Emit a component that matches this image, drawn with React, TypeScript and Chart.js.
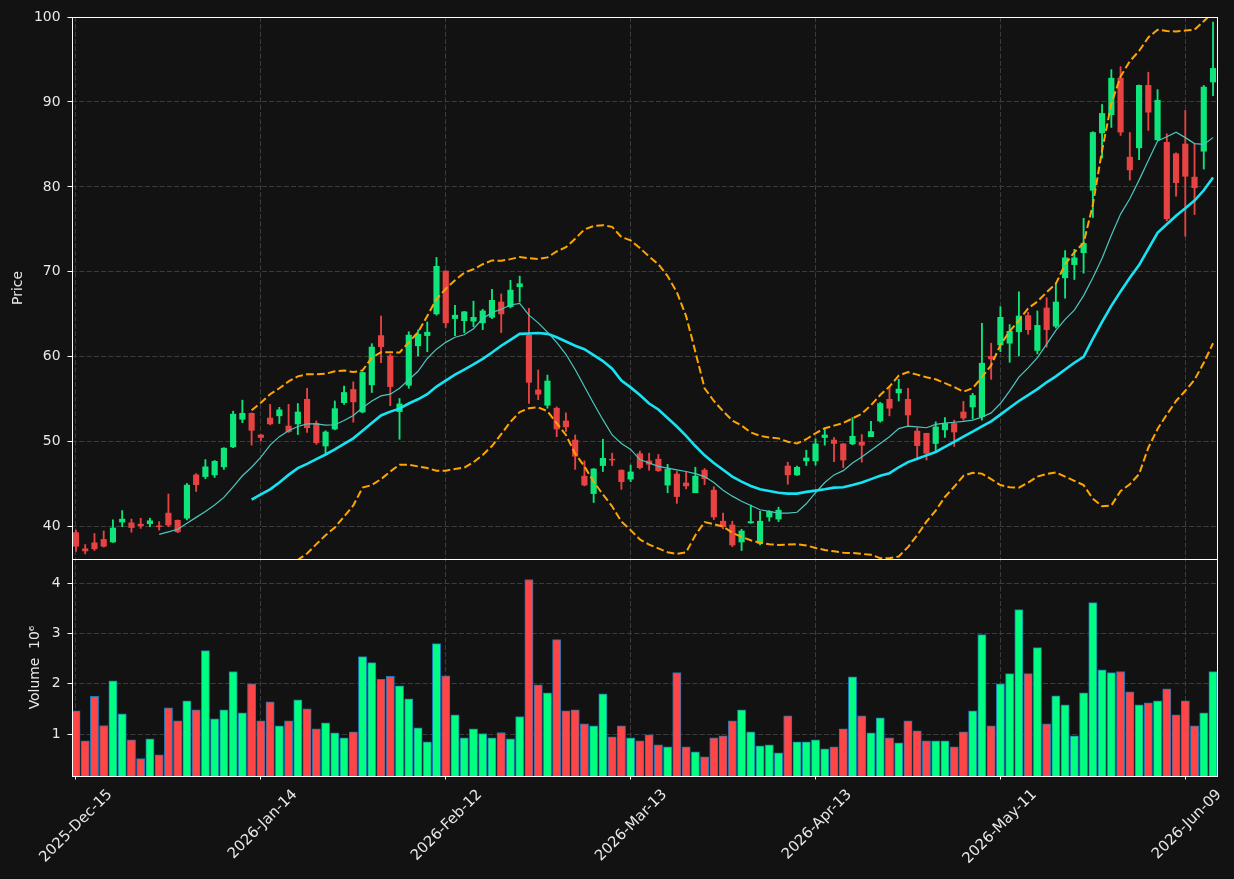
import React, { useEffect, useRef } from 'react';
import { Chart, registerables } from 'chart.js';
Chart.register(...registerables);

// x tick labels (trading-day index -> date label)
const tickIndices = [0, 20, 40, 60, 80, 100, 120];
const tickLabels = ['2025-Dec-15', '2026-Jan-14', '2026-Feb-12', '2026-Mar-13', '2026-Apr-13', '2026-May-11', '2026-Jun-09'];

const openP = [39.3,37.4,38.1,38.5,38.2,40.55,40.45,40.3,40.35,40.1,
41.6,40.75,41.0,46.1,45.9,46.1,47.05,49.4,52.65,53.35,
50.8,52.8,53.05,51.85,52.1,55.0,52.15,49.5,51.5,54.6,
56.15,53.5,56.7,62.5,60.1,53.55,56.65,61.3,62.5,65.05,
70.1,64.5,64.25,64.2,64.0,64.65,66.45,65.9,68.25,62.55,
56.1,54.3,53.95,52.45,50.2,45.95,43.9,47.2,47.95,46.65,
45.6,48.6,47.75,47.95,44.9,46.2,45.15,44.0,46.65,44.3,
40.65,40.2,38.2,40.45,38.05,41.15,40.9,47.15,46.1,47.75,
47.75,50.5,50.2,49.75,49.75,49.95,50.6,52.45,55.0,55.75,
55.0,51.25,51.0,49.8,51.4,52.15,53.5,54.1,52.95,60.05,
61.4,61.6,62.95,64.85,60.75,65.75,63.6,69.3,70.85,72.25,
79.6,86.35,88.5,92.8,83.5,84.6,91.95,85.55,85.25,83.9,
85.05,81.15,84.2,92.35];

const highP = [39.6,37.9,39.2,39.5,40.8,41.9,40.9,41.0,41.0,40.6,
43.85,40.8,45.1,46.25,47.9,47.8,49.3,53.6,54.9,53.4,
50.85,54.4,54.05,54.4,54.5,56.3,52.45,51.3,54.8,56.55,
57.05,58.2,61.55,64.8,60.3,55.1,62.95,63.15,64.1,71.7,
70.1,66.05,65.35,66.55,65.6,67.95,67.4,69.0,69.5,65.7,
58.45,57.85,54.1,53.4,50.8,47.75,46.85,50.3,48.65,46.7,
47.25,48.9,48.65,48.5,47.35,46.5,46.4,47.0,46.85,44.7,
41.6,40.65,39.7,42.55,41.8,41.9,42.3,47.6,47.15,49.0,
50.35,51.55,50.5,49.8,52.85,50.85,52.4,54.65,56.4,57.35,
56.3,51.65,51.0,52.35,52.85,52.55,54.75,55.7,63.95,61.6,
65.9,63.8,67.65,65.25,65.4,66.95,68.7,72.5,72.65,76.3,
86.5,89.7,93.8,94.15,86.4,92.0,93.5,91.45,86.25,84.0,
89.0,85.05,91.95,99.4];

const lowP = [37.1,36.8,37.2,37.6,38.15,40.0,39.35,39.8,40.0,39.6,
40.0,39.3,40.8,44.15,45.65,45.8,46.75,49.3,52.25,49.6,
50.1,52.0,52.15,51.1,50.85,51.1,49.7,48.5,51.4,54.4,
52.3,53.4,55.8,59.3,54.25,50.3,56.3,60.1,60.6,64.9,
63.45,62.5,62.85,63.55,63.2,64.5,62.85,65.75,66.45,54.5,
54.95,53.95,50.6,51.2,46.75,44.8,42.85,46.5,47.2,44.4,
45.3,46.8,46.65,46.5,44.0,42.75,44.45,44.0,44.95,40.85,
39.75,37.65,37.2,40.4,37.85,40.65,40.6,45.0,46.05,47.2,
47.25,49.6,47.65,46.95,49.65,47.6,50.6,52.3,53.05,54.8,
51.9,47.85,47.85,48.9,50.5,49.45,52.55,52.7,52.55,57.35,
60.6,59.35,60.1,62.65,60.35,61.15,63.4,66.9,69.1,69.85,
76.4,83.4,87.0,86.05,80.8,83.2,86.65,85.5,76.0,78.9,
74.2,76.75,82.1,90.75];

const closeP = [37.7,37.15,37.4,37.7,39.85,40.9,39.9,40.1,40.7,40.0,
40.2,39.4,44.9,44.95,47.05,47.7,49.25,53.25,53.35,51.35,
50.5,52.1,53.75,51.2,53.5,51.65,49.9,51.15,53.9,55.8,
54.7,58.15,61.15,61.2,56.5,54.45,62.55,62.65,62.9,70.65,
64.0,64.9,65.3,64.65,65.4,66.65,65.05,67.85,68.6,57.0,
55.6,57.15,51.5,51.75,48.3,44.9,46.8,48.05,47.85,45.3,
46.45,46.95,47.35,46.6,46.75,43.55,44.8,45.95,45.65,41.15,
40.0,37.85,39.5,40.6,40.65,41.8,41.95,46.1,47.0,48.1,
49.75,50.8,49.8,47.85,50.65,49.6,51.2,54.5,53.95,56.2,
53.15,49.55,48.65,51.75,52.15,51.15,52.8,55.45,59.25,59.75,
64.65,63.0,64.8,63.2,63.7,63.2,66.45,71.65,71.65,73.35,
86.4,88.65,92.8,86.45,82.0,91.95,88.8,90.2,76.25,80.5,
81.25,79.9,91.75,93.95];

// volume in millions
const volumeM = [1.465,0.868,1.75,1.173,2.062,1.405,0.888,0.516,0.908,0.589,
1.525,1.266,1.664,1.485,2.66,1.306,1.485,2.242,1.425,2.003,
1.266,1.644,1.167,1.266,1.684,1.505,1.107,1.226,1.027,0.928,
1.047,2.54,2.421,2.089,2.149,1.963,1.704,1.127,0.848,2.799,
2.162,1.386,0.93,1.107,1.014,0.928,1.034,0.908,1.352,4.073,
1.983,1.824,2.879,1.465,1.485,1.206,1.167,1.804,0.948,1.167,
0.928,0.868,0.987,0.788,0.749,2.222,0.749,0.649,0.549,0.928,
0.967,1.266,1.485,1.047,0.768,0.788,0.629,1.366,0.848,0.848,
0.888,0.709,0.749,1.107,2.142,1.366,1.027,1.326,0.928,0.828,
1.266,1.067,0.868,0.868,0.868,0.749,1.047,1.465,2.978,1.167,
2.003,2.202,3.476,2.202,2.719,1.206,1.764,1.585,0.967,1.824,
3.615,2.281,2.222,2.242,1.843,1.585,1.624,1.664,1.903,1.386,
1.664,1.167,1.425,2.242];

// 10-period moving average, first value at index 9
const sma10Start = 9;
const sma10 = [39.1,39.4,39.7,40.4,41.1,41.8,42.55,43.45,44.7,46.0,
47.0,48.2,49.6,50.6,51.3,51.8,52.1,52.1,51.95,52.0,
52.5,53.1,54.0,54.8,55.4,55.6,56.3,57.3,58.3,59.8,
60.9,61.7,62.3,62.6,63.3,64.5,65.2,65.6,66.1,66.3,
64.9,64.0,62.9,61.7,60.3,58.5,56.5,54.5,52.6,50.8,
49.8,49.1,47.9,47.5,47.1,46.9,46.7,46.5,46.25,45.9,
45.2,44.3,43.6,43.0,42.5,42.0,41.8,41.6,41.6,41.7,
42.7,44.0,45.2,46.1,46.6,47.5,48.2,49.0,49.8,50.6,
51.55,51.85,51.75,51.65,52.05,52.2,52.3,52.4,52.55,52.9,
53.4,54.5,56.0,57.6,58.7,59.9,61.5,63.1,64.4,65.5,
67.2,69.3,71.6,74.3,76.8,78.6,80.8,83.1,85.4,85.9,
86.45,85.8,85.1,85.0,85.8];

// 20-period moving average and Bollinger bands, first value at index 19
const sma20Start = 19;
const sma20 = [43.2,43.8,44.4,45.2,46.1,46.9,47.4,47.95,48.5,49.1,
49.75,50.4,51.3,52.2,53.1,53.55,53.9,54.5,55.0,55.6,
56.5,57.2,57.9,58.5,59.1,59.75,60.5,61.3,62.0,62.7,
62.75,62.8,62.7,62.3,61.8,61.3,60.9,60.2,59.5,58.6,
57.2,56.4,55.5,54.5,53.8,52.8,51.8,50.7,49.5,48.4,
47.5,46.7,45.9,45.3,44.8,44.4,44.2,44.0,43.9,43.9,
44.1,44.25,44.4,44.6,44.65,44.9,45.2,45.6,46.0,46.3,
47.0,47.6,48.0,48.4,48.8,49.4,50.0,50.6,51.2,51.8,
52.4,53.2,54.0,54.8,55.5,56.2,57.0,57.7,58.5,59.3,
60.0,62.1,64.1,66.0,67.7,69.3,70.8,72.7,74.6,75.6,
76.6,77.5,78.4,79.6,81.1];

const bbUpper = [53.7,54.6,55.6,56.3,57.1,57.7,57.95,57.95,58.0,58.3,
58.4,58.2,58.4,59.9,60.55,60.55,60.5,61.7,62.9,64.8,
66.8,68.0,69.0,69.9,70.3,70.9,71.35,71.3,71.5,71.75,
71.6,71.5,71.7,72.4,72.9,73.9,75.0,75.4,75.5,75.3,
74.1,73.7,72.8,71.8,70.9,69.5,67.6,64.8,60.6,56.3,
54.8,53.6,52.5,51.9,51.1,50.7,50.5,50.4,50.0,49.8,
50.3,51.0,51.6,51.9,52.2,52.75,53.3,54.3,55.5,56.5,
57.8,58.2,57.9,57.6,57.35,56.9,56.45,55.9,56.3,57.6,
59.0,61.4,63.0,64.3,65.7,66.5,67.6,68.6,70.9,72.3,
73.4,77.9,84.3,89.8,93.0,94.8,96.0,97.6,98.5,98.35,
98.3,98.4,98.5,99.5,100.6];

const bbLower = [32.7,33.0,33.2,34.1,35.1,36.1,36.85,37.95,39.0,39.9,
41.2,42.5,44.6,44.9,45.6,46.5,47.3,47.3,47.1,46.9,
46.6,46.6,46.8,46.95,47.6,48.45,49.5,50.9,52.35,53.5,
53.95,54.05,53.6,52.2,50.8,48.6,47.1,45.3,43.8,42.4,
40.6,39.6,38.5,37.9,37.45,37.0,36.8,37.0,39.0,40.55,
40.3,40.0,39.3,38.8,38.4,38.1,37.95,37.85,37.9,37.95,
37.8,37.5,37.25,37.1,36.95,36.9,36.8,36.7,36.3,36.3,
36.5,37.6,39.0,40.6,41.9,43.5,44.7,46.0,46.35,46.25,
45.6,44.9,44.65,44.6,45.2,45.9,46.2,46.4,45.9,45.4,
44.9,43.3,42.4,42.5,44.2,45.0,46.2,49.3,51.5,53.2,
54.8,56.0,57.3,59.3,61.6];

const BG = '#121212';
const TXT = '#e8e8e8';
const GRID = '#3c3c3c';
const UP = '#0ee67c';
const DOWN = '#e84343';
const VUP = '#00ff80';
const VDOWN = '#ff4545';
const EDGE = '#1f77b4';
const FONT = { family: "'DejaVu Sans', sans-serif", size: 13.9 };
const XFONT = { family: "'DejaVu Sans', sans-serif", size: 14.8 };

const bgPlugin = {
  id: 'bgFill',
  beforeDraw(c: any) {
    const ctx = c.ctx;
    ctx.save();
    ctx.fillStyle = BG;
    ctx.fillRect(0, 0, c.width, c.height);
    ctx.restore();
  },
};

const framePlugin = {
  id: 'panelFrame',
  afterDraw(c: any) {
    const { ctx } = c;
    const x = c.scales.x;
    ctx.save();
    ctx.strokeStyle = '#ffffff';
    ctx.lineWidth = 1;
    for (const id of ['y', 'yv']) {
      const s = c.scales[id];
      ctx.strokeRect(Math.round(x.left) + 0.5, Math.round(s.top) + 0.5, Math.round(x.right - x.left), Math.round(s.bottom - s.top));
    }
    ctx.restore();
  },
};

export default function App() {
  const ref = useRef<HTMLCanvasElement>(null);
  useEffect(() => {
    document.body.style.margin = '0';
    document.body.style.background = BG;
    const idx = closeP.map((_, i) => i);
    const isUp = idx.map((i) => closeP[i] >= openP[i]);
    const pts = (start: number, arr: number[]) => arr.map((v, k) => ({ x: start + k, y: v }));
    const gridCommon = {
      color: GRID,
      lineWidth: 1,
      drawTicks: true,
      tickColor: '#ffffff',
      tickWidth: 1,
      tickBorderDash: [],
      offset: false,
    };
    const borderCommon = { display: false, dash: [5.1, 2.2] };

    const chart = new Chart(ref.current as HTMLCanvasElement, {
      type: 'bar',
      data: {
        datasets: [
          {
            type: 'line', label: 'MA10', yAxisID: 'y', data: pts(sma10Start, sma10),
            borderColor: '#4cc6bf', borderWidth: 1.2, pointRadius: 0, tension: 0, clip: 0, order: 0,
          },
          {
            type: 'line', label: 'MA20', yAxisID: 'y', data: pts(sma20Start, sma20),
            borderColor: '#16e4f5', borderWidth: 2.6, pointRadius: 0, tension: 0, clip: 0, order: 0,
          },
          {
            type: 'line', label: 'BB upper', yAxisID: 'y', data: pts(sma20Start, bbUpper),
            borderColor: '#ffa500', borderWidth: 2, borderDash: [7.7, 3.3], pointRadius: 0, tension: 0, clip: 0, order: 0,
          },
          {
            type: 'line', label: 'BB lower', yAxisID: 'y', data: pts(sma20Start, bbLower),
            borderColor: '#ffa500', borderWidth: 2, borderDash: [7.7, 3.3], pointRadius: 0, tension: 0, clip: 0, order: 0,
          },
          {
            type: 'bar', label: 'wick', yAxisID: 'y',
            data: idx.map((i) => ({ x: i, y: [lowP[i], highP[i]] })),
            backgroundColor: idx.map((i) => (isUp[i] ? UP : DOWN)),
            barThickness: 1.2, grouped: false, order: 2,
          },
          {
            type: 'bar', label: 'body', yAxisID: 'y',
            data: idx.map((i) => ({ x: i, y: [openP[i], closeP[i]] })),
            backgroundColor: idx.map((i) => (isUp[i] ? UP : DOWN)),
            barThickness: 5.5, grouped: false, order: 1,
          },
          {
            type: 'bar', label: 'Volume', yAxisID: 'yv',
            data: idx.map((i) => ({ x: i, y: volumeM[i] })),
            backgroundColor: idx.map((i) => (isUp[i] ? VUP : VDOWN)),
            borderColor: EDGE, borderWidth: 1, barThickness: 8.3, grouped: false, order: 3,
          },
        ] as any,
      },
      options: {
        responsive: false,
        animation: false,
        events: [],
        layout: { padding: { left: 0, right: 17, top: 17, bottom: 0 } },
        plugins: { legend: { display: false }, tooltip: { enabled: false } },
        scales: {
          x: {
            type: 'linear',
            min: -0.43,
            max: 123.43,
            offset: false,
            afterBuildTicks: (s: any) => { s.ticks = tickIndices.map((v) => ({ value: v })); },
            afterFit: (s: any) => { s.height = 103; s.paddingLeft = 0; s.paddingRight = 0; },
            ticks: {
              autoSkip: false, minRotation: 45, maxRotation: 45, color: TXT, font: XFONT,
              padding: 6.5, labelOffset: 34,
              callback: (v: any) => { const k = tickIndices.indexOf(Number(v)); return k >= 0 ? tickLabels[k] : ''; },
            },
            grid: { ...gridCommon, tickLength: 3.5 },
            border: borderCommon,
          },
          yv: {
            type: 'linear', position: 'left', stack: 'panels', stackWeight: 217,
            min: 0.17, max: 4.48,
            afterFit: (s: any) => { s.width = 72; s.paddingTop = 0; s.paddingBottom = 0; },
            ticks: { stepSize: 1, includeBounds: false, color: TXT, font: FONT, padding: 7 },
            grid: { ...gridCommon, tickLength: 4.5 },
            border: borderCommon,
            title: { display: true, text: 'Volume  10\u2076', color: TXT, font: FONT, padding: { top: 27.5, bottom: 0 } },
          },
          y: {
            type: 'linear', position: 'left', stack: 'panels', stackWeight: 542,
            min: 36.2, max: 100,
            afterFit: (s: any) => { s.width = 72; s.paddingTop = 0; s.paddingBottom = 0; },
            ticks: { stepSize: 10, includeBounds: false, color: TXT, font: FONT, padding: 7 },
            grid: { ...gridCommon, tickLength: 4.5 },
            border: borderCommon,
            title: { display: true, text: 'Price', color: TXT, font: FONT, padding: { top: 10, bottom: 0 } },
          },
        },
      } as any,
      plugins: [bgPlugin, framePlugin],
    });
    return () => chart.destroy();
  }, []);
  return (
    <div style={{ width: 1234, height: 879, background: BG }}>
      <canvas ref={ref} width={1234} height={879} style={{ display: 'block' }} />
    </div>
  );
}
